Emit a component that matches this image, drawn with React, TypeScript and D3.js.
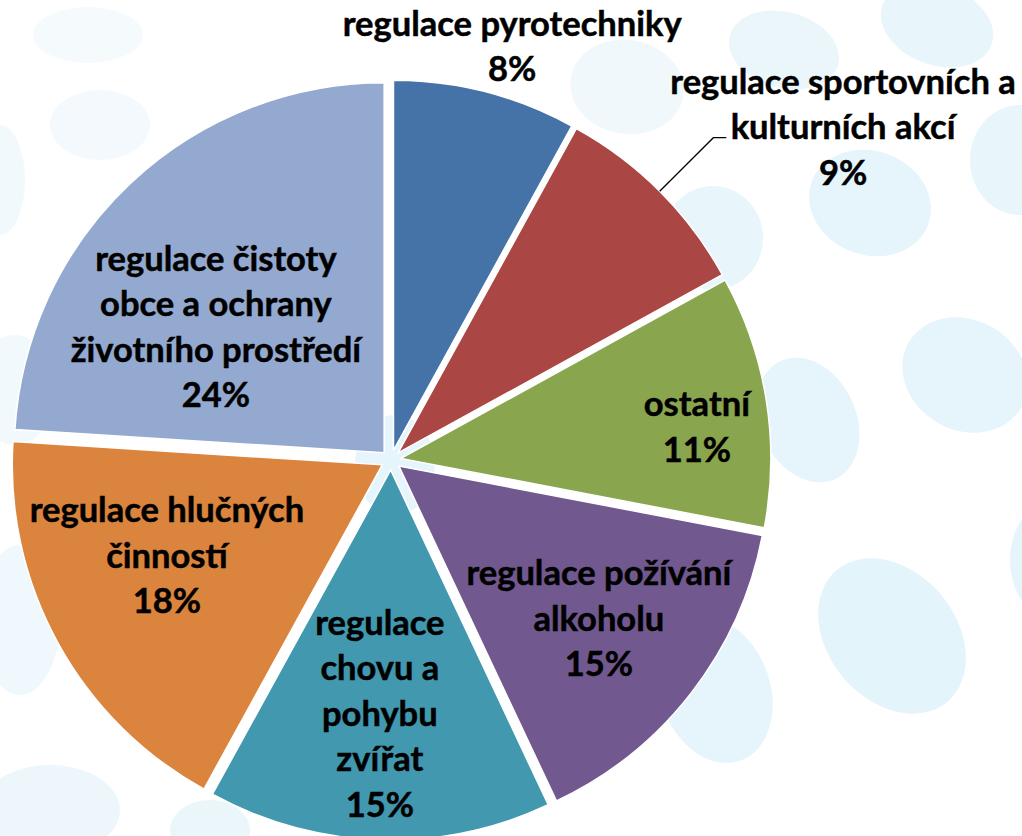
import React, { useRef, useEffect } from 'react';
import * as d3 from 'd3';

// data
const categories = [
  'regulace pyrotechniky',
  'regulace sportovních a kulturních akcí',
  'ostatní',
  'regulace požívání alkoholu',
  'regulace chovu a pohybu zvířat',
  'regulace hlučných činností',
  'regulace čistoty obce a ochrany životního prostředí',
];
const values = [8, 9, 11, 15, 15, 18, 24];
const labelLines = [
  ['regulace pyrotechniky'],
  ['regulace sportovních a', 'kulturních akcí'],
  ['ostatní'],
  ['regulace požívání', 'alkoholu'],
  ['regulace', 'chovu a', 'pohybu', 'zvířat'],
  ['regulace hlučných', 'činností'],
  ['regulace čistoty', 'obce a ochrany', 'životního prostředí'],
];
const colors = ['#4572a7', '#aa4643', '#89a54e', '#71588f', '#4198af', '#db843d', '#93a9cf'];

// label placement: fraction of radius + angle nudge (deg) from slice middle
const labelRadius = [1.16, 1.514, 0.831, 0.71, 0.692, 0.661, 0.591];
const labelNudge = [2, 8.8, 3.2, -0.1, 0.7, 5.2, -10];
const hasLeader = [false, true, false, false, false, false, false];

// faint background ovals [cx, cy, rx, ry, rotate, colour]
const bubbles: [number, number, number, number, number, string][] = [
  [937, 25, 58, 40, 20, '#e8f5fb'],
  [784, 50, 56, 38, 15, '#ebf6fb'],
  [627, 87, 57, 47, 10, '#f0f8fc'],
  [1020, 160, 50, 55, 0, '#e8f5fb'],
  [870, 203, 62, 52, 20, '#e6f4fb'],
  [713, 238, 50, 52, 0, '#e8f5fb'],
  [965, 375, 65, 55, 30, '#e6f4fb'],
  [808, 420, 48, 65, -25, '#e6f4fb'],
  [892, 636, 64, 86, -40, '#e4f4fb'],
  [715, 690, 55, 75, -20, '#e6f4fb'],
  [1055, 560, 45, 60, 0, '#e6f4fb'],
  [88, 35, 55, 28, 0, '#f5fafd'],
  [100, 125, 50, 35, 0, '#f3f9fc'],
  [0, 180, 25, 55, 0, '#f2f9fc'],
  [15, 390, 40, 55, 0, '#f2f9fc'],
  [20, 620, 40, 75, 0, '#eff8fc'],
  [50, 810, 70, 45, 0, '#edf7fb'],
  [210, 830, 40, 30, 0, '#ebf6fb'],
  [395, 465, 40, 50, 0, '#e6f4fb'],
];

const W = 1022;
const H = 836;

const PieChart = () => {
  const gRef = useRef<SVGGElement>(null);

  useEffect(() => {
    draw();
  }, []);

  const draw = () => {
    const g = d3.select(gRef.current);
    g.selectAll('*').remove();

    const cx = 391;
    const cy = 460;
    const R = 370;
    const explode = 10;
    const lineH = 45.5;
    const font = "Lato, 'Open Sans', sans-serif";

    g.append('rect').attr('width', W).attr('height', H).attr('fill', '#fff');

    g.selectAll('ellipse')
      .data(bubbles)
      .enter()
      .append('ellipse')
      .attr('transform', (d) => `translate(${d[0]},${d[1]}) rotate(${d[4]})`)
      .attr('rx', (d) => d[2])
      .attr('ry', (d) => d[3])
      .attr('fill', (d) => d[5]);

    const pie = d3.pie<number>().sort(null).value((d) => d)(values);
    const arc = d3.arc<d3.PieArcDatum<number>>().innerRadius(0).outerRadius(R);
    const mid = (d: d3.PieArcDatum<number>) => (d.startAngle + d.endAngle) / 2;
    const polar = (a: number, r: number) => [Math.sin(a) * r, -Math.cos(a) * r];

    const chart = g.append('g').attr('transform', `translate(${cx},${cy})`);

    // slices, each pulled out along its middle
    chart.selectAll('path.slice')
      .data(pie)
      .enter()
      .append('path')
      .attr('class', 'slice')
      .attr('transform', (d) => {
        const [dx, dy] = polar(mid(d), explode);
        return `translate(${dx},${dy})`;
      })
      .attr('d', arc)
      .attr('fill', (d, i) => colors[i])
      .attr('stroke', '#fff')
      .attr('stroke-width', 1.5)
      .append('title')
      .text((d, i) => `${categories[i]}: ${values[i]}%`);

    // leader line for the outside label
    pie.forEach((d, i) => {
      if (!hasLeader[i]) return;
      const a = mid(d);
      const [ox, oy] = polar(a, explode);
      const [ax, ay] = polar(a, R);
      const [ex, ey] = polar(a, R * 1.205);
      chart.append('path')
        .attr('d', `M${ox + ax},${oy + ay}L${ox + ex},${oy + ey}h13`)
        .attr('fill', 'none')
        .attr('stroke', '#000')
        .attr('stroke-width', 1.3);
    });

    // data labels
    pie.forEach((d, i) => {
      const a = mid(d) + (labelNudge[i] * Math.PI) / 180;
      const [lx, ly] = polar(a, R * labelRadius[i]);
      const lines = [...labelLines[i], `${values[i]}%`];
      const y0 = ly - ((lines.length - 1) / 2) * lineH + 10;
      const t = chart.append('text')
        .attr('text-anchor', 'middle')
        .style('font-family', font)
        .style('font-weight', 700)
        .style('font-size', '34.5px')
        .attr('fill', '#000')
        .attr('stroke', '#000')
        .attr('stroke-width', 0.5);
      lines.forEach((ln, j) => {
        t.append('tspan').attr('x', lx).attr('y', y0 + j * lineH).text(ln);
      });
    });
  };

  return (
    <svg width={W} height={H} style={{ position: 'absolute', left: 0, top: 0 }}>
      <g ref={gRef} />
    </svg>
  );
};

export default function App() {
  return <PieChart />;
}
